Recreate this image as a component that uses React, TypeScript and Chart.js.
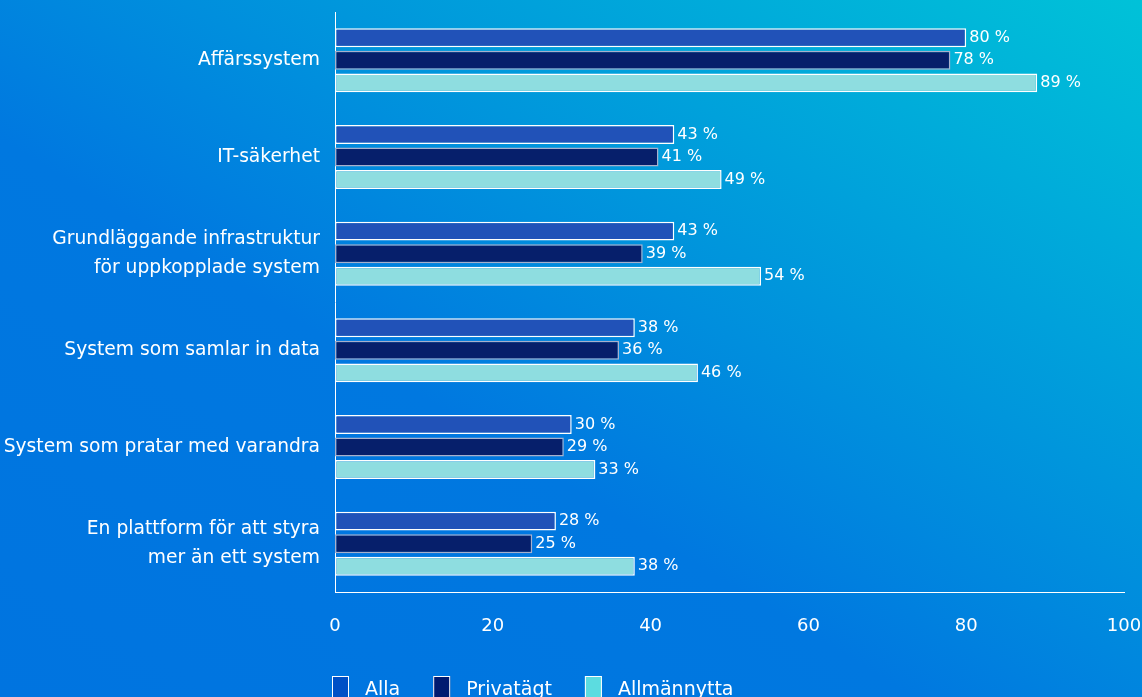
import React, { useEffect, useRef } from "react";
import { Chart, registerables } from "chart.js";

Chart.register(...registerables);

const categories: (string | string[])[] = [
  "Affärssystem",
  "IT-säkerhet",
  ["Grundläggande infrastruktur", "för uppkopplade system"],
  "System som samlar in data",
  "System som pratar med varandra",
  ["En plattform för att styra", "mer än ett system"],
];
const alla = [80, 43, 43, 38, 30, 28];
const privatagt = [78, 41, 39, 36, 29, 25];
const allmannytta = [89, 49, 54, 46, 33, 38];
const xTicks = [0, 20, 40, 60, 80, 100];

const seriesNames = ["Alla", "Privatägt", "Allmännytta"];
const barColors = ["#2152b8", "#061f6b", "#8edde0"];
const borderColors = ["#ffffff", "#a8b0cc", "#ffffff"];
const legendColors = ["#0050c6", "#001a70", "#5cdce0"];

const FONT = "'DejaVu Sans', sans-serif";

const valueLabels = {
  id: "valueLabels",
  afterDatasetsDraw(chart: any) {
    const ctx = chart.ctx;
    ctx.save();
    ctx.fillStyle = "#ffffff";
    ctx.font = `16px ${FONT}`;
    ctx.textBaseline = "middle";
    ctx.textAlign = "left";
    chart.data.datasets.forEach((ds: any, i: number) => {
      const meta = chart.getDatasetMeta(i);
      meta.data.forEach((el: any, j: number) => {
        ctx.fillText(`${ds.data[j]} %`, el.x + 3, el.y);
      });
    });
    ctx.restore();
  },
};

const customLegend = {
  id: "customLegend",
  afterDraw(chart: any) {
    const ctx = chart.ctx;
    const left = chart.chartArea.left - 3;
    const top = chart.chartArea.bottom + 84;
    ctx.save();
    ctx.font = `19px ${FONT}`;
    ctx.textBaseline = "alphabetic";
    let x = left;
    seriesNames.forEach((name, i) => {
      ctx.fillStyle = legendColors[i];
      ctx.fillRect(x, top, 17, 24);
      ctx.strokeStyle = "#ffffff";
      ctx.lineWidth = 1;
      ctx.strokeRect(x + 0.5, top + 0.5, 16, 23);
      ctx.fillStyle = "#ffffff";
      ctx.fillText(name, x + 33, top + 19);
      const w = ctx.measureText(name).width;
      x += 33 + w + 33;
    });
    ctx.restore();
  },
};

const zeroPad = (scale: any) => {
  scale.paddingTop = 0;
  scale.paddingBottom = 0;
  scale.paddingLeft = 0;
  scale.paddingRight = 0;
};

export default function App() {
  const ref = useRef<HTMLCanvasElement>(null);
  useEffect(() => {
    if (!ref.current) return;
    const data = [alla, privatagt, allmannytta];
    const chart = new Chart(ref.current, {
      type: "bar",
      data: {
        labels: categories,
        datasets: seriesNames.map((name, i) => ({
          label: name,
          data: data[i],
          backgroundColor: barColors[i],
          borderColor: borderColors[i],
          borderWidth: 1.5,
          borderSkipped: false,
          categoryPercentage: 0.7,
          barPercentage: 0.84,
        })),
      },
      options: {
        indexAxis: "y",
        animation: false,
        responsive: false,
        maintainAspectRatio: false,
        layout: { padding: { top: 12, right: 18, left: 0, bottom: 0 } },
        plugins: {
          legend: { display: false },
          tooltip: { enabled: false },
        },
        scales: {
          x: {
            min: 0,
            max: 100,
            afterBuildTicks: (scale: any) => {
              scale.ticks = xTicks.map((v) => ({ value: v }));
            },
            afterFit: (scale: any) => {
              scale.height = 105;
              zeroPad(scale);
            },
            grid: { display: false, drawTicks: false },
            border: { display: true, color: "#ffffff", width: 1 },
            ticks: {
              color: "#ffffff",
              font: { family: FONT, size: 18 },
              padding: 24,
              maxRotation: 0,
            },
          },
          y: {
            afterFit: (scale: any) => {
              scale.width = 335;
              zeroPad(scale);
            },
            grid: { display: false, drawTicks: false },
            border: { display: true, color: "#ffffff", width: 1 },
            ticks: {
              color: "#ffffff",
              font: { family: FONT, size: 18.7, lineHeight: 1.52 },
              padding: 15,
            },
          },
        },
      },
      plugins: [valueLabels, customLegend],
    });
    return () => chart.destroy();
  }, []);

  return (
    <div
      style={{
        position: "fixed",
        left: 0,
        top: 0,
        width: 1142,
        height: 697,
        overflow: "hidden",
        background:
          "linear-gradient(to bottom left, #00c2d8 0%, #0096dc 36%, #0078e0 60%, #0074e0 100%)",
      }}
    >
      <canvas ref={ref} width={1142} height={697} style={{ display: "block" }} />
    </div>
  );
}
